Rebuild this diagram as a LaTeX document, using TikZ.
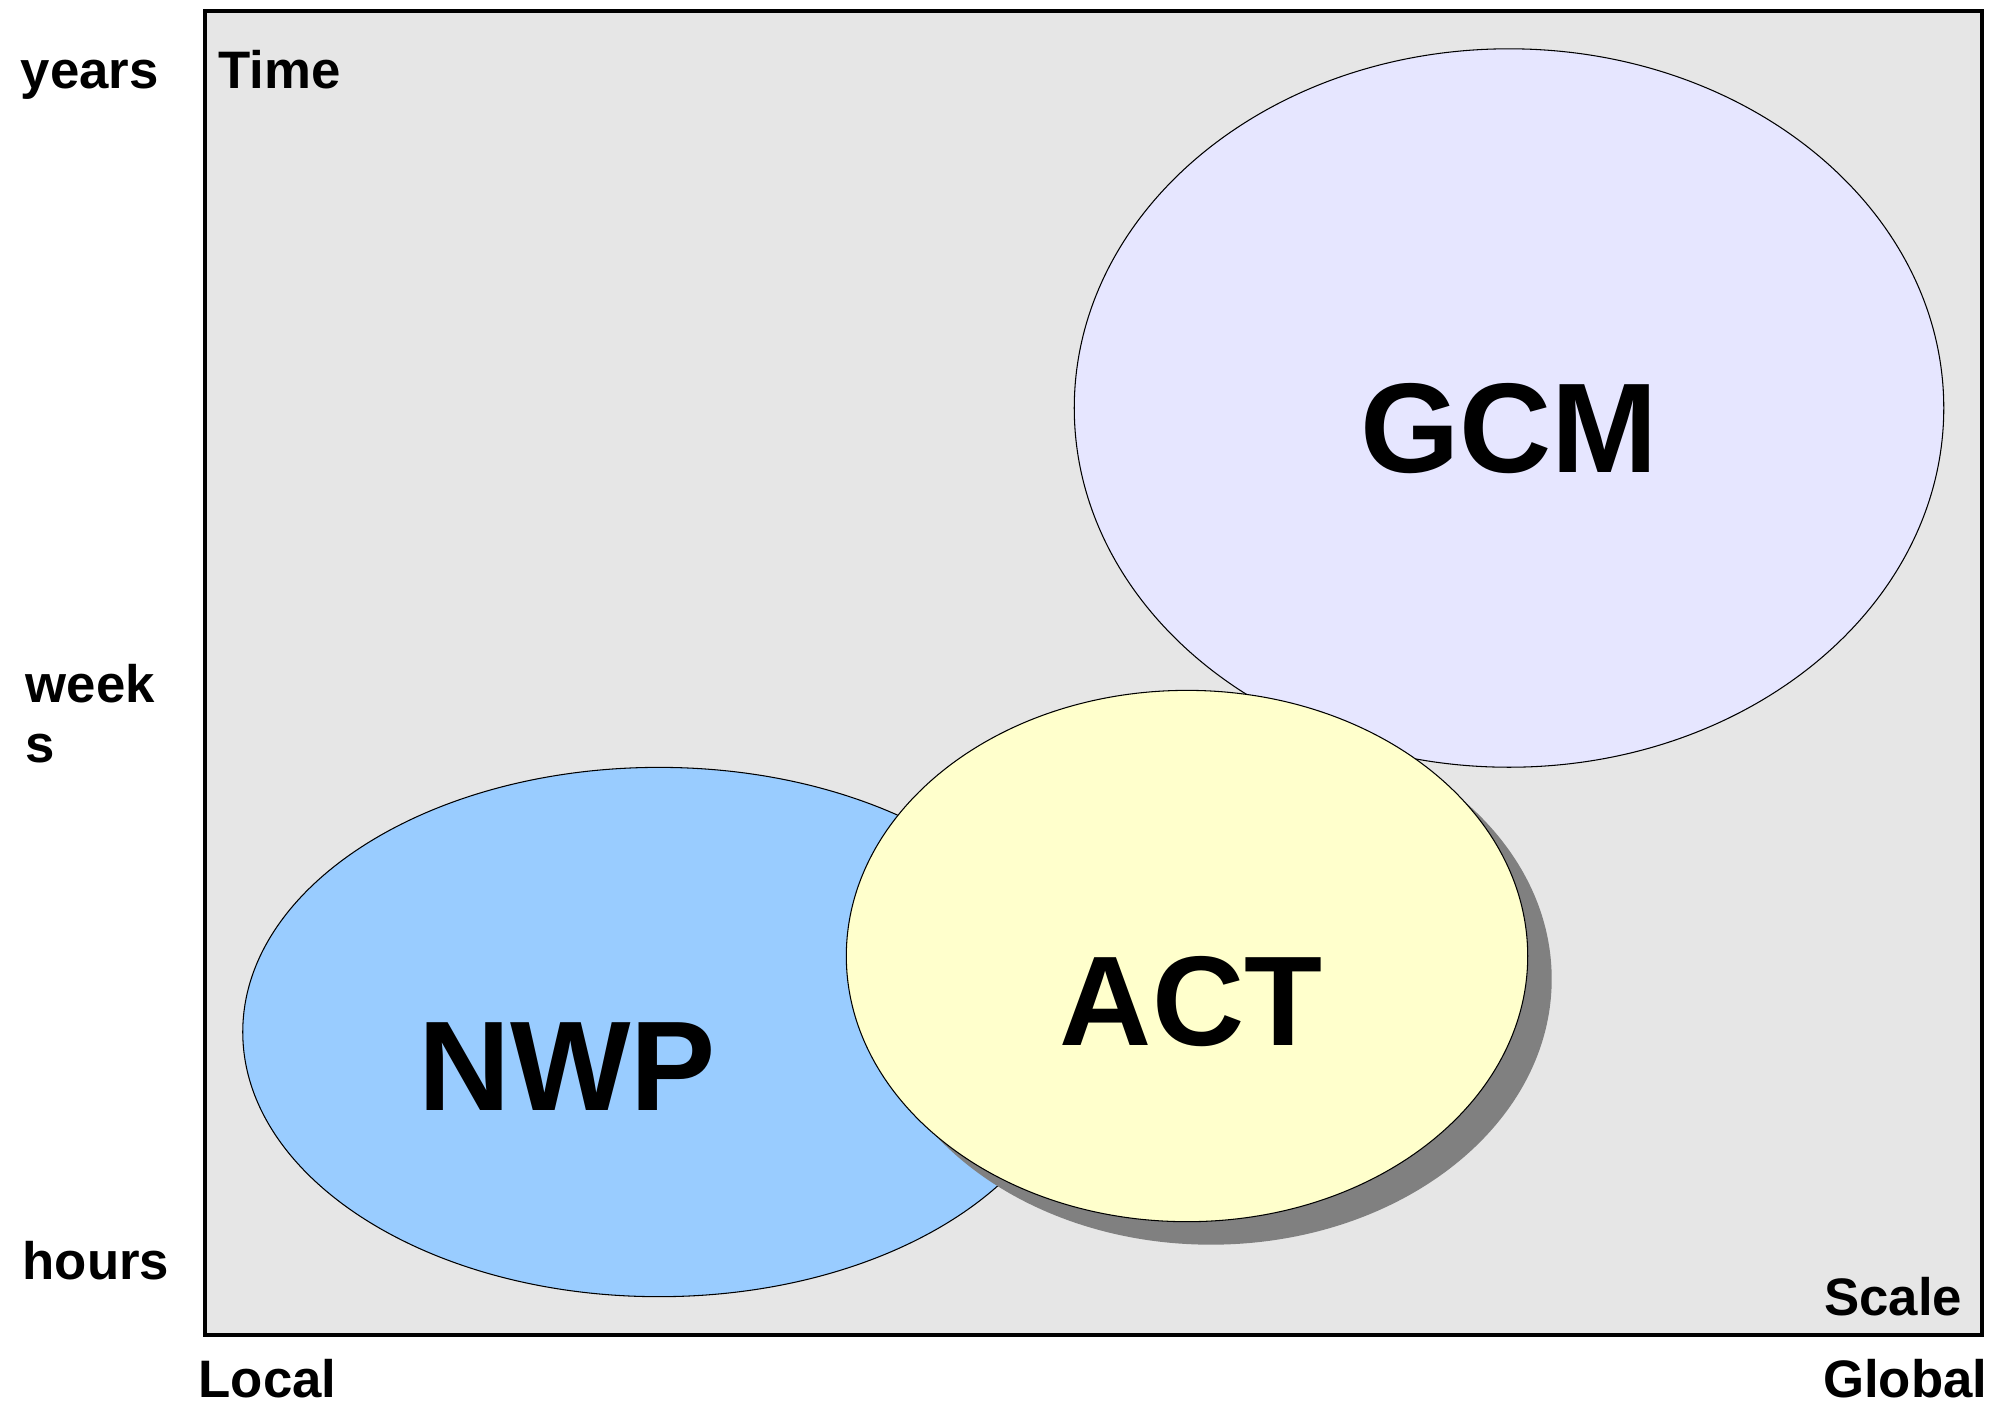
\documentclass[tikz,border=0pt]{standalone}
\usepackage{fontspec}
\setmainfont{Liberation Sans}
\usetikzlibrary{shapes.geometric}
\definecolor{panelgray}{HTML}{E6E6E6}
\definecolor{gcmlilac}{HTML}{E6E6FF}
\definecolor{nwpblue}{HTML}{99CCFF}
\definecolor{actyellow}{HTML}{FFFFCC}
\definecolor{shadowgray}{HTML}{808080}
\begin{document}
\begin{tikzpicture}[x=0.01cm,y=-0.01cm]
	\tikzstyle{blob}=[ellipse,draw=black,line width=0.3pt,inner sep=0pt]
	\tikzstyle{axislabel}=[inner sep=0pt,font=\fontsize{15}{16.8}\selectfont\bfseries]
	\tikzstyle{modellabel}=[inner sep=0pt,anchor=base,font=\fontsize{36.3}{44}\selectfont\bfseries]
	\useasboundingbox (0,0) rectangle (2007,1414);
	\draw[line width=1pt,fill=panelgray] (205,11) rectangle (1982,1335);
	\node[blob,fill=gcmlilac,minimum width=8.69cm,minimum height=7.18cm] (gcm) at (1509,408) {};
	\node[blob,fill=nwpblue,minimum width=8.32cm,minimum height=5.29cm] (nwp) at (659,1032) {};
	\node[ellipse,fill=shadowgray,inner sep=0pt,minimum width=6.81cm,minimum height=5.31cm] (act_shadow) at (1211,979) {};
	\node[blob,fill=actyellow,minimum width=6.81cm,minimum height=5.31cm] (act) at (1187,956) {};
	\node[modellabel] (gcm_label) at (1509,472) {GCM};
	\node[modellabel] (act_label) at (1191,1045) {ACT};
	\node[modellabel] (nwp_label) at (567,1110) {NWP};
	\node[axislabel,anchor=base west] (time) at (218,88) {Time};
	\node[axislabel,anchor=base east] (scale) at (1963,1315) {Scale};
	\node[axislabel,anchor=base west] (years) at (20,88) {years};
	\node[axislabel,anchor=base west,align=left] (weeks) at (25,762) {week\\s};
	\node[axislabel,anchor=base west] (hours) at (22,1279) {hours};
	\node[axislabel,anchor=base west] (local) at (198,1397) {Local};
	\node[axislabel,anchor=base east] (global) at (1988,1397) {Global};
\end{tikzpicture}
\end{document}
